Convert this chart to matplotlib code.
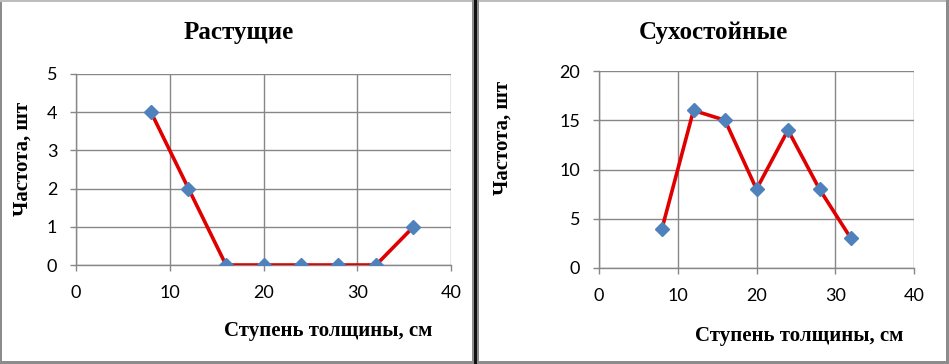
import matplotlib
matplotlib.use("Agg")
import matplotlib.pyplot as plt
from matplotlib.patches import Rectangle

# Data
x_growing = [8, 12, 16, 20, 24, 28, 32, 36]
y_growing = [4, 2, 0, 0, 0, 0, 0, 1]
x_dead = [8, 12, 16, 20, 24, 28, 32]
y_dead = [4, 16, 15, 8, 14, 8, 3]
titles = ["Растущие", "Сухостойные"]
xlabel = "Ступень толщины, см"
ylabel = "Частота, шт"
xticks = [0, 10, 20, 30, 40]
yticks_growing = [0, 1, 2, 3, 4, 5]
yticks_dead = [0, 5, 10, 15, 20]

W, H = 949, 364
fig = plt.figure(figsize=(W / 100, H / 100), dpi=100)
fig.patch.set_facecolor("white")

def px(x0, y0, x1, y1):
    # pixel box (top-left origin) -> figure fraction rect
    return [x0 / W, (H - y1) / H, (x1 - x0) / W, (y1 - y0) / H]

grid_c = "#878787"
line_c = "#E00000"
mark_c = "#4F81BD"
tick_font = "Lato"
serif = "Liberation Serif"

def make(ax_rect, xs, ys, ymax, yticks, title, title_xy, xl_xy, yl_xy):
    ax = fig.add_axes(px(*ax_rect))
    ax.plot(xs, ys, color=line_c, lw=2.6, zorder=3, solid_capstyle="butt")
    ax.plot(xs, ys, ls="none", marker="D", ms=7.5, mfc=mark_c, mec=mark_c, zorder=4)
    ax.set_xlim(0, 40)
    ax.set_ylim(0, ymax)
    ax.set_xticks(xticks)
    ax.set_yticks(yticks)
    ax.grid(True, color=grid_c, lw=1.0)
    ax.set_axisbelow(True)
    for s in ["top", "right"]:
        ax.spines[s].set_visible(False)
    for s in ["left", "bottom"]:
        ax.spines[s].set_color(grid_c)
        ax.spines[s].set_linewidth(1.0)
    ax.tick_params(axis="both", color=grid_c, length=4.5, width=1.0, direction="out",
                   labelsize=13, labelcolor="black")
    ax.tick_params(axis="y", pad=9)
    ax.tick_params(axis="x", pad=10)
    for lab in ax.get_xticklabels() + ax.get_yticklabels():
        lab.set_fontfamily(tick_font)
    ax.set_facecolor("white")
    fig.text(title_xy[0] / W, 1 - title_xy[1] / H, title, ha="center", va="center",
             fontsize=18, fontweight="bold", family=serif)
    fig.text(xl_xy[0] / W, 1 - xl_xy[1] / H, xlabel, ha="center", va="center",
             fontsize=15, fontweight="bold", family=serif)
    fig.text(yl_xy[0] / W, 1 - yl_xy[1] / H, ylabel, ha="center", va="center",
             fontsize=15, fontweight="bold", family=serif, rotation=90)
    return ax

make((76, 74, 451, 265), x_growing, y_growing, 5, yticks_growing, titles[0],
     (239, 32), (328, 331), (23, 159))
make((599, 71, 914, 268), x_dead, y_dead, 20, yticks_dead, titles[1],
     (713, 32), (799, 336), (503, 138))

# Panel borders
def rect(x0, y0, x1, y1, color):
    fig.patches.append(Rectangle((x0 / W, (H - y1) / H), (x1 - x0) / W, (y1 - y0) / H,
                                 transform=fig.transFigure, color=color, lw=0, zorder=10))

g = "#8c8c8c"
rect(0, 0, 2, H, g)          # left edge
rect(0, 0, W, 1.5, "#bdbdbd")  # top edge
rect(0, H - 3, W, H, g)      # bottom edge
rect(W - 3, 0, W, H, g)      # right edge
rect(472, 0, 474, H, g)
rect(474, 0, 477, H, "#111111")
rect(477, 0, 479, H, g)

fig.savefig("out.png", dpi=100)
